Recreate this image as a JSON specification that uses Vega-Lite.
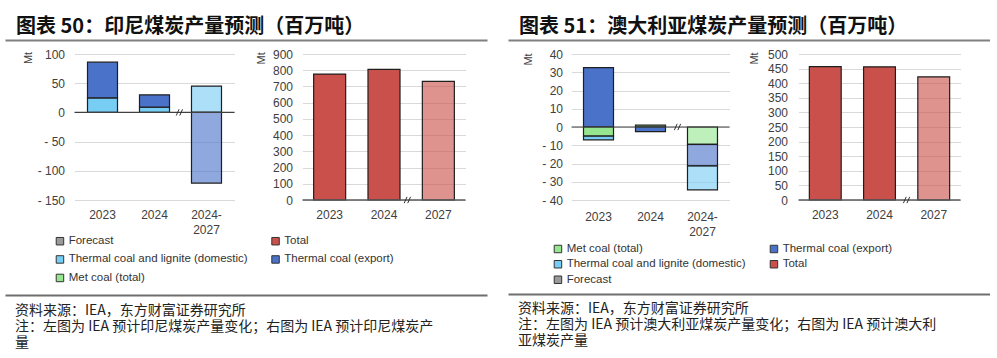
{
  "$schema": "https://vega.github.io/schema/vega-lite/v6.json",
  "padding": {"left": 5, "top": 6, "right": 0, "bottom": 0},
  "background": "white",
  "spacing": 21,
  "resolve": {"scale": {"color": "independent", "x": "independent", "y": "independent"}, "legend": {"color": "independent"}},
  "config": {
    "view": {"stroke": null},
    "axis": {"labelFont": "Liberation Sans", "labelFontSize": 12, "labelColor": "#404040", "titleFont": "Liberation Sans", "titleFontSize": 11, "titleFontWeight": "normal", "titleColor": "#404040", "domain": false, "ticks": false, "gridColor": "#d9d9d9", "gridWidth": 1},
    "axisX": {"grid": false, "labelAngle": 0, "labelPadding": 9, "title": null, "labelLineHeight": 15},
    "axisY": {"labelPadding": 10, "tickCount": 20, "titleAngle": 270, "titleAlign": "center", "titleBaseline": "middle"},
    "legend": {"title": null, "symbolType": "square", "symbolSize": 56, "symbolStrokeColor": "#333333", "symbolStrokeWidth": 1, "labelFont": "Liberation Sans", "labelFontSize": 11.5, "labelColor": "#333333", "labelOffset": 3, "labelLimit": 190, "columns": 2, "symbolOpacity": 1}
  },
  "hconcat": [
    {
      "spacing": 8,
      "resolve": {"scale": {"color": "shared", "x": "independent", "y": "independent"}, "legend": {"color": "shared"}},
      "vconcat": [
        {
          "width": 482, "height": 34,
          "data": {"values": [{"t": "图表 50：印尼煤炭产量预测（百万吨）"}]},
          "mark": {"type": "text", "align": "left", "baseline": "alphabetic", "font": "Noto Sans CJK SC", "fontSize": 20, "fontWeight": "bold", "dx": 11, "dy": -7, "color": "#111111"},
          "encoding": {
            "text": {"field": "t"},
            "x": {"datum": 0, "type": "quantitative", "scale": {"domain": [0, 1]}, "axis": {"orient": "bottom", "domain": true, "domainColor": "#808080", "domainWidth": 2, "labels": false, "ticks": false, "grid": false, "title": null}},
            "y": {"datum": 0, "type": "quantitative", "scale": {"domain": [0, 1]}, "axis": null}
          }
        },
        {
          "spacing": 16.5,
          "resolve": {"scale": {"color": "shared", "x": "independent", "y": "independent"}, "legend": {"color": "shared"}},
          "hconcat": [
            {
              "width": 1, "height": 146,
              "data": {"values": [{}]},
              "mark": {"type": "rect", "color": "white", "opacity": 1},
              "encoding": {}
            },
            {
              "spacing": 20,
              "resolve": {"scale": {"color": "shared", "x": "independent", "y": "independent"}, "legend": {"color": "shared"}},
              "hconcat": [
                {
                  "width": 160, "height": 146,
                  "layer": [
                    {
                      "data": {"values": [
                        {"cat": "2023", "series": "Thermal coal and lignite (domestic)", "value": 25, "forecast": false},
                        {"cat": "2023", "series": "Thermal coal (export)", "value": 61, "forecast": false},
                        {"cat": "2024", "series": "Thermal coal and lignite (domestic)", "value": 9, "forecast": false},
                        {"cat": "2024", "series": "Thermal coal (export)", "value": 21, "forecast": false},
                        {"cat": "2024-2027", "series": "Thermal coal and lignite (domestic)", "value": 45, "forecast": true},
                        {"cat": "2024-2027", "series": "Thermal coal (export)", "value": -121, "forecast": true}
                      ]},
                      "mark": {"type": "bar", "stroke": "#1f1f1f", "strokeWidth": 1.2},
                      "encoding": {
                        "x": {"field": "cat", "type": "nominal", "sort": null, "scale": {"domain": ["2023", "2024", "2024-2027"], "paddingInner": 0.423, "paddingOuter": 0.25}, "axis": {"labelExpr": "datum.label == '2024-2027' ? ['2024-', '2027'] : datum.label"}},
                        "y": {"field": "value", "type": "quantitative", "stack": "zero", "scale": {"domain": [-150, 100], "nice": false}, "axis": {"title": "Mt", "titleX": -46, "titleY": 3.5, "tickCount": 20, "values": [-150, -100, -50, 0, 50, 100], "labelExpr": "datum.value < 0 ? '- ' + abs(datum.value) : datum.label"}},
                        "color": {"field": "series", "type": "nominal", "scale": {"domain": ["Forecast", "Thermal coal and lignite (domestic)", "Met coal (total)", "Total", "Thermal coal (export)"], "range": ["#9a9a9a", "#77cdf4", "#95e68f", "#c9504b", "#4a72c8"]}, "legend": {"orient": "none", "legendX": 49.2, "legendY": 229.2, "padding": 0, "rowPadding": 5.5, "columnPadding": 21.6}},
                        "order": {"field": "series", "sort": "descending"},
                        "fillOpacity": {"condition": {"test": "datum.forecast", "value": 0.62}, "value": 1}
                      }
                    },
                    {
                      "data": {"values": [{}]},
                      "mark": {"type": "rule", "color": "#404040", "strokeWidth": 1.2},
                      "encoding": {"y": {"datum": 0}}
                    },
                    {
                      "data": {"values": [{}]},
                      "mark": {"type": "point", "shape": "M-0.9,0.9L-0.1,-0.9M0.1,0.9L0.9,-0.9", "size": 49, "filled": false, "stroke": "#333333", "strokeWidth": 1, "opacity": 1},
                      "encoding": {"x": {"datum": "2024", "type": "nominal", "bandPosition": 1.33}, "y": {"datum": 0}}
                    }
                  ]
                },
                {
                  "width": 163, "height": 146,
                  "layer": [
                    {
                      "data": {"values": [
                        {"cat": "2023", "series": "Total", "value": 776, "forecast": false},
                        {"cat": "2024", "series": "Total", "value": 805, "forecast": false},
                        {"cat": "2027", "series": "Total", "value": 731, "forecast": true}
                      ]},
                      "mark": {"type": "bar", "stroke": "#1f1f1f", "strokeWidth": 1.2},
                      "encoding": {
                        "x": {"field": "cat", "type": "nominal", "sort": null, "scale": {"domain": ["2023", "2024", "2027"], "paddingInner": 0.411, "paddingOuter": 0.205}},
                        "y": {"field": "value", "type": "quantitative", "scale": {"domain": [0, 900], "nice": false}, "axis": {"title": "Mt", "titleX": -41, "titleY": 3.8, "tickCount": 20, "values": [0, 100, 200, 300, 400, 500, 600, 700, 800, 900]}},
                        "color": {"field": "series", "type": "nominal", "scale": {"domain": ["Forecast", "Thermal coal and lignite (domestic)", "Met coal (total)", "Total", "Thermal coal (export)"], "range": ["#9a9a9a", "#77cdf4", "#95e68f", "#c9504b", "#4a72c8"]}},
                        "fillOpacity": {"condition": {"test": "datum.forecast", "value": 0.62}, "value": 1}
                      }
                    },
                    {
                      "data": {"values": [{}]},
                      "mark": {"type": "rule", "color": "#595959", "strokeWidth": 1.5},
                      "encoding": {"y": {"datum": 0}}
                    },
                    {
                      "data": {"values": [{}]},
                      "mark": {"type": "point", "shape": "M-0.9,0.9L-0.1,-0.9M0.1,0.9L0.9,-0.9", "size": 49, "filled": false, "stroke": "#333333", "strokeWidth": 1, "opacity": 1},
                      "encoding": {"x": {"datum": "2024", "type": "nominal", "bandPosition": 1.23}, "y": {"datum": 0}}
                    }
                  ]
                }
              ]
            }
          ]
        },
        {
          "width": 482, "height": 44,
          "data": {"values": [{}]},
          "mark": {"type": "rect", "color": "white", "opacity": 1},
          "encoding": {}
        },
        {
          "width": 482, "height": 60,
          "data": {"values": [{"t": "资料来源：IEA，东方财富证券研究所\n注：左图为 IEA 预计印尼煤炭产量变化；右图为 IEA 预计印尼煤炭产\n量"}]},
          "mark": {"type": "text", "align": "left", "baseline": "top", "lineBreak": "\n", "lineHeight": 16.2, "font": "Noto Sans CJK SC", "fontSize": 14, "dx": 10, "dy": 9, "color": "#222222"},
          "encoding": {
            "text": {"field": "t"},
            "x": {"datum": 0, "type": "quantitative", "scale": {"domain": [0, 1]}, "axis": {"orient": "top", "domain": true, "domainColor": "#6e6e6e", "domainWidth": 2, "labels": false, "ticks": false, "grid": false, "title": null}},
            "y": {"datum": 1, "type": "quantitative", "scale": {"domain": [0, 1]}, "axis": null}
          }
        }
      ]
    },
    {
      "spacing": 8,
      "resolve": {"scale": {"color": "shared", "x": "independent", "y": "independent"}, "legend": {"color": "shared"}},
      "vconcat": [
        {
          "width": 482, "height": 34,
          "data": {"values": [{"t": "图表 51：澳大利亚煤炭产量预测（百万吨）"}]},
          "mark": {"type": "text", "align": "left", "baseline": "alphabetic", "font": "Noto Sans CJK SC", "fontSize": 20, "fontWeight": "bold", "dx": 11, "dy": -7, "color": "#111111"},
          "encoding": {
            "text": {"field": "t"},
            "x": {"datum": 0, "type": "quantitative", "scale": {"domain": [0, 1]}, "axis": {"orient": "bottom", "domain": true, "domainColor": "#808080", "domainWidth": 2, "labels": false, "ticks": false, "grid": false, "title": null}},
            "y": {"datum": 0, "type": "quantitative", "scale": {"domain": [0, 1]}, "axis": null}
          }
        },
        {
          "spacing": 13.5,
          "resolve": {"scale": {"color": "shared", "x": "independent", "y": "independent"}, "legend": {"color": "shared"}},
          "hconcat": [
            {
              "width": 1, "height": 146,
              "data": {"values": [{}]},
              "mark": {"type": "rect", "color": "white", "opacity": 1},
              "encoding": {}
            },
            {
              "spacing": 17,
              "resolve": {"scale": {"color": "shared", "x": "independent", "y": "independent"}, "legend": {"color": "shared"}},
              "hconcat": [
                {
                  "width": 158, "height": 146,
                  "layer": [
                    {
                      "data": {"values": [
                        {"cat": "2023", "series": "Thermal coal (export)", "value": 32.5, "forecast": false},
                        {"cat": "2023", "series": "Met coal (total)", "value": -5, "forecast": false},
                        {"cat": "2023", "series": "Thermal coal and lignite (domestic)", "value": -2, "forecast": false},
                        {"cat": "2024", "series": "Met coal (total)", "value": 1, "forecast": false},
                        {"cat": "2024", "series": "Thermal coal (export)", "value": -2.5, "forecast": false},
                        {"cat": "2024-2027", "series": "Met coal (total)", "value": -9.5, "forecast": true},
                        {"cat": "2024-2027", "series": "Thermal coal (export)", "value": -11.8, "forecast": true},
                        {"cat": "2024-2027", "series": "Thermal coal and lignite (domestic)", "value": -13.1, "forecast": true}
                      ]},
                      "mark": {"type": "bar", "stroke": "#1f1f1f", "strokeWidth": 1.2},
                      "encoding": {
                        "x": {"field": "cat", "type": "nominal", "sort": null, "scale": {"domain": ["2023", "2024", "2024-2027"], "paddingInner": 0.423, "paddingOuter": 0.231}, "axis": {"labelPadding": 11, "labelExpr": "datum.label == '2024-2027' ? ['2024-', '2027'] : datum.label"}},
                        "y": {"field": "value", "type": "quantitative", "stack": "zero", "scale": {"domain": [-40, 40], "nice": false}, "axis": {"title": "Mt", "titleX": -43, "titleY": 5, "labelPadding": 9, "tickCount": 20, "values": [-40, -30, -20, -10, 0, 10, 20, 30, 40], "labelExpr": "datum.value < 0 ? '- ' + abs(datum.value) : datum.label"}},
                        "color": {"field": "series", "type": "nominal", "scale": {"domain": ["Met coal (total)", "Thermal coal and lignite (domestic)", "Forecast", "Thermal coal (export)", "Total"], "range": ["#95e68f", "#77cdf4", "#9a9a9a", "#4a72c8", "#c9504b"]}, "legend": {"orient": "none", "legendX": 44.2, "legendY": 237, "padding": 0, "rowPadding": 2.5, "columnPadding": 22}},
                        "order": {"field": "series", "sort": "ascending"},
                        "fillOpacity": {"condition": {"test": "datum.forecast", "value": 0.62}, "value": 1}
                      }
                    },
                    {
                      "data": {"values": [{}]},
                      "mark": {"type": "rule", "color": "#404040", "strokeWidth": 1.2},
                      "encoding": {"y": {"datum": 0}}
                    },
                    {
                      "data": {"values": [{}]},
                      "mark": {"type": "point", "shape": "M-0.9,0.9L-0.1,-0.9M0.1,0.9L0.9,-0.9", "size": 49, "filled": false, "stroke": "#333333", "strokeWidth": 1, "opacity": 1},
                      "encoding": {"x": {"datum": "2024", "type": "nominal", "bandPosition": 1.4}, "y": {"datum": 0}}
                    }
                  ]
                },
                {
                  "width": 162, "height": 146,
                  "layer": [
                    {
                      "data": {"values": [
                        {"cat": "2023", "series": "Total", "value": 457, "forecast": false},
                        {"cat": "2024", "series": "Total", "value": 456, "forecast": false},
                        {"cat": "2027", "series": "Total", "value": 422, "forecast": true}
                      ]},
                      "mark": {"type": "bar", "stroke": "#1f1f1f", "strokeWidth": 1.2},
                      "encoding": {
                        "x": {"field": "cat", "type": "nominal", "sort": null, "scale": {"domain": ["2023", "2024", "2027"], "paddingInner": 0.413, "paddingOuter": 0.2}},
                        "y": {"field": "value", "type": "quantitative", "scale": {"domain": [0, 500], "nice": false}, "axis": {"title": "Mt", "titleX": -44.5, "titleY": 4, "labelPadding": 11, "tickCount": 20, "values": [0, 50, 100, 150, 200, 250, 300, 350, 400, 450, 500]}},
                        "color": {"field": "series", "type": "nominal", "scale": {"domain": ["Met coal (total)", "Thermal coal and lignite (domestic)", "Forecast", "Thermal coal (export)", "Total"], "range": ["#95e68f", "#77cdf4", "#9a9a9a", "#4a72c8", "#c9504b"]}},
                        "fillOpacity": {"condition": {"test": "datum.forecast", "value": 0.62}, "value": 1}
                      }
                    },
                    {
                      "data": {"values": [{}]},
                      "mark": {"type": "rule", "color": "#595959", "strokeWidth": 1.5},
                      "encoding": {"y": {"datum": 0}}
                    },
                    {
                      "data": {"values": [{}]},
                      "mark": {"type": "point", "shape": "M-0.9,0.9L-0.1,-0.9M0.1,0.9L0.9,-0.9", "size": 49, "filled": false, "stroke": "#333333", "strokeWidth": 1, "opacity": 1},
                      "encoding": {"x": {"datum": "2024", "type": "nominal", "bandPosition": 1.35}, "y": {"datum": 0}}
                    }
                  ]
                }
              ]
            }
          ]
        },
        {
          "width": 482, "height": 41,
          "data": {"values": [{}]},
          "mark": {"type": "rect", "color": "white", "opacity": 1},
          "encoding": {}
        },
        {
          "width": 482, "height": 60,
          "data": {"values": [{"t": "资料来源：IEA，东方财富证券研究所\n注：左图为 IEA 预计澳大利亚煤炭产量变化；右图为 IEA 预计澳大利\n亚煤炭产量"}]},
          "mark": {"type": "text", "align": "left", "baseline": "top", "lineBreak": "\n", "lineHeight": 16.2, "font": "Noto Sans CJK SC", "fontSize": 14, "dx": 10, "dy": 8, "color": "#222222"},
          "encoding": {
            "text": {"field": "t"},
            "x": {"datum": 0, "type": "quantitative", "scale": {"domain": [0, 1]}, "axis": {"orient": "top", "domain": true, "domainColor": "#6e6e6e", "domainWidth": 2, "labels": false, "ticks": false, "grid": false, "title": null}},
            "y": {"datum": 1, "type": "quantitative", "scale": {"domain": [0, 1]}, "axis": null}
          }
        }
      ]
    }
  ]
}
